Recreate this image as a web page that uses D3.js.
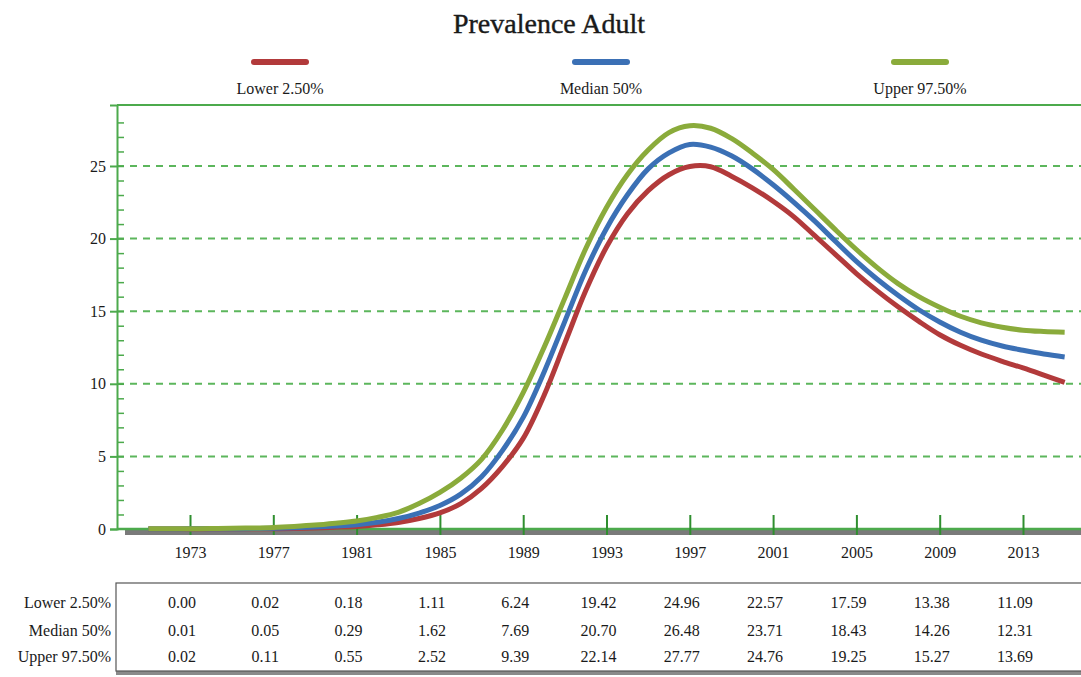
<!DOCTYPE html>
<html>
<head>
<meta charset="utf-8">
<script src="https://cdn.jsdelivr.net/npm/d3@7"></script>
<style>
  html, body { margin: 0; padding: 0; background: #fff; }
  svg { display: block; }
  text { font-family: "Liberation Serif", "Times New Roman", serif; fill: #1a1a1a; }
</style>
</head>
<body>
<svg id="chart" width="1081" height="677"></svg>
<script>
// ---- data ----
const years = d3.range(1971, 2016);
const lower = [0.00,0.00,0.00,0.01,0.01,0.01,0.02,0.04,0.07,0.12,0.18,0.29,0.45,0.72,1.11,1.75,2.80,4.30,6.24,9.20,12.8,16.4,19.42,21.7,23.3,24.4,24.96,24.95,24.3,23.5,22.57,21.5,20.2,18.9,17.59,16.4,15.3,14.3,13.38,12.65,12.05,11.55,11.09,10.6,10.1];
const median = [0.00,0.00,0.01,0.01,0.02,0.03,0.05,0.08,0.13,0.20,0.29,0.46,0.72,1.10,1.62,2.40,3.60,5.40,7.69,10.8,14.3,17.8,20.70,23.0,24.8,25.9,26.48,26.3,25.7,24.8,23.71,22.5,21.2,19.8,18.43,17.2,16.1,15.1,14.26,13.55,13.0,12.6,12.31,12.05,11.85];
const upper = [0.01,0.01,0.02,0.03,0.05,0.07,0.11,0.18,0.27,0.40,0.55,0.80,1.15,1.75,2.52,3.50,4.80,6.80,9.39,12.5,15.9,19.3,22.14,24.4,26.1,27.3,27.77,27.6,26.9,25.9,24.76,23.4,22.0,20.6,19.25,18.0,16.9,16.0,15.27,14.65,14.2,13.9,13.69,13.6,13.55];
const seriesNames = ["Lower 2.50%", "Median 50%", "Upper 97.50%"];
const seriesColors = ["#b23a3b", "#3b70b5", "#8aab3b"];
const tickYears = [1973,1977,1981,1985,1989,1993,1997,2001,2005,2009,2013];
const yTicks = [0,5,10,15,20,25];
const tableLower = ["0.00","0.02","0.18","1.11","6.24","19.42","24.96","22.57","17.59","13.38","11.09"];
const tableMedian = ["0.01","0.05","0.29","1.62","7.69","20.70","26.48","23.71","18.43","14.26","12.31"];
const tableUpper = ["0.02","0.11","0.55","2.52","9.39","22.14","27.77","24.76","19.25","15.27","13.69"];
const title = "Prevalence Adult";

// ---- layout ----
const svg = d3.select("#chart");
const pLeft = 117, pTop = 105, pBottom = 529, pRight = 1081;
const axisGreen = "#4caa4c", tickGreen = "#2f8f2f", gridGreen = "#5cb65c";

const x = d3.scaleLinear().domain([1973, 2013]).range([190, 1023]);
const y = d3.scaleLinear().domain([0, 29.2]).range([pBottom, pTop]);

// title
svg.append("text").attr("x", 549).attr("y", 33).attr("text-anchor", "middle")
  .style("font-size", "28px").style("font-weight", "500").attr("stroke", "#1a1a1a").attr("stroke-width", 0.4).text(title);

// legend
const legendX = [280, 601, 920];
seriesNames.forEach((n, i) => {
  svg.append("line").attr("x1", legendX[i] - 26).attr("x2", legendX[i] + 26)
    .attr("y1", 62).attr("y2", 62).attr("stroke", seriesColors[i])
    .attr("stroke-width", 6).attr("stroke-linecap", "round");
  svg.append("text").attr("x", legendX[i]).attr("y", 94).attr("text-anchor", "middle")
    .style("font-size", "16px").text(n);
});

// grid lines
const g = svg.append("g");
g.selectAll(".grid").data(yTicks.filter(d => d > 0)).enter().append("line")
  .attr("x1", pLeft).attr("x2", pRight).attr("y1", d => y(d)).attr("y2", d => y(d))
  .attr("stroke", gridGreen).attr("stroke-width", 2).attr("stroke-dasharray", "7,6");

// top border
g.append("line").attr("x1", pLeft).attr("x2", pRight).attr("y1", pTop).attr("y2", pTop)
  .attr("stroke", axisGreen).attr("stroke-width", 2);

// y axis
const yAxis = d3.axisLeft(y).tickValues(yTicks).tickSize(7).tickPadding(4).tickFormat(d3.format("d"));
const ya = g.append("g").attr("transform", `translate(${pLeft},0)`).call(yAxis);
ya.select(".domain").attr("stroke", axisGreen).attr("stroke-width", 2);
ya.selectAll(".tick line").attr("stroke", axisGreen).attr("stroke-width", 2);
ya.selectAll(".tick text").style("font-size", "16px").style("font-family", "Liberation Serif").attr("fill", "#1a1a1a");
// minor ticks
const yMinor = d3.axisRight(y).tickValues(d3.range(1, 29)).tickSize(7).tickFormat("");
const ym = g.append("g").attr("transform", `translate(${pLeft},0)`).call(yMinor);
ym.select(".domain").remove();
ym.selectAll(".tick line").attr("stroke", axisGreen).attr("stroke-width", 1.5);

// x axis shadow
g.append("rect").attr("x", 125).attr("y", pBottom + 1).attr("width", pRight - 125).attr("height", 5).attr("fill", "#7a7a7a");
// x axis line
g.append("line").attr("x1", pLeft).attr("x2", pRight).attr("y1", pBottom).attr("y2", pBottom)
  .attr("stroke", axisGreen).attr("stroke-width", 2.5);
const xAxis = d3.axisBottom(x).tickValues(tickYears).tickSize(0).tickPadding(18).tickFormat(d3.format("d"));
const xa = g.append("g").attr("transform", `translate(0,${pBottom})`).call(xAxis);
xa.select(".domain").remove();
xa.selectAll(".tick text").style("font-size", "16px").style("font-family", "Liberation Serif").attr("fill", "#1a1a1a");
xa.selectAll(".tick").append("line").attr("y1", -14).attr("y2", 6).attr("stroke", tickGreen).attr("stroke-width", 2);

// lines
const allSeries = [lower, median, upper];
const line = d3.line().x((d, i) => x(years[i])).y(d => y(d)).curve(d3.curveCatmullRom.alpha(0.5));
allSeries.forEach((s, i) => {
  g.append("path").datum(s).attr("d", line).attr("fill", "none")
    .attr("stroke", seriesColors[i]).attr("stroke-width", 5).attr("stroke-linejoin", "round");
});

// table
const tb = svg.append("g");
tb.append("rect").attr("x", 118).attr("y", 585).attr("width", 1000).attr("height", 88)
  .attr("fill", "none").attr("stroke", "#8a8a8a").attr("stroke-width", 4);
tb.append("rect").attr("x", 116).attr("y", 583).attr("width", 1000).attr("height", 88)
  .attr("fill", "#fff").attr("stroke", "#555").attr("stroke-width", 1.2);
const rows = [tableLower, tableMedian, tableUpper];
const rowY = [608, 636, 662];
rows.forEach((r, ri) => {
  tb.append("text").attr("x", 111).attr("y", rowY[ri]).attr("text-anchor", "end")
    .style("font-size", "16px").text(seriesNames[ri]);
  tb.selectAll(null).data(r).enter().append("text")
    .attr("x", (d, i) => x(tickYears[i]) - 8).attr("y", rowY[ri])
    .attr("text-anchor", "middle").style("font-size", "16px").text(d => d);
});
</script>
</body>
</html>
